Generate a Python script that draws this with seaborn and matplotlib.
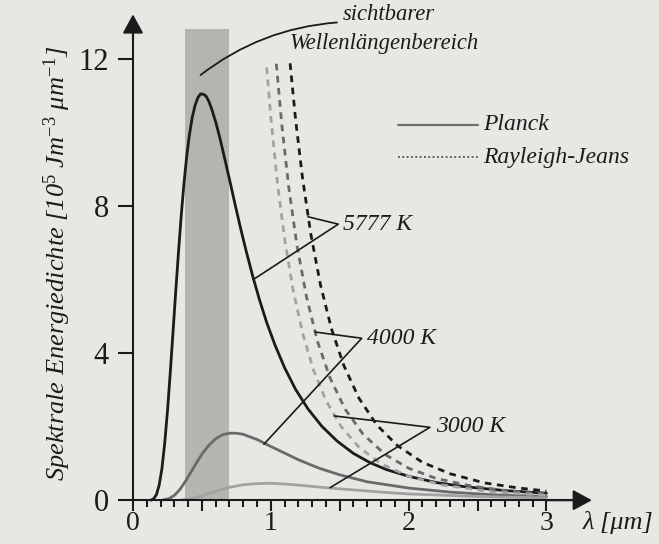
import matplotlib
matplotlib.use("Agg")
import matplotlib.pyplot as plt
import pandas as pd
import seaborn as sns

# ---------------- data ----------------
# Planck curves (wavelength in µm, energy density in 1e5 J m^-3 µm^-1)
planck_5777_lam = [0.13, 0.15, 0.17, 0.19, 0.21, 0.23, 0.25, 0.27, 0.29, 0.31,
                   0.33, 0.35, 0.37, 0.39, 0.41, 0.43, 0.45, 0.47, 0.49, 0.51,
                   0.53, 0.55, 0.57, 0.60, 0.63, 0.66, 0.70, 0.74, 0.78, 0.82,
                   0.87, 0.92, 0.97, 1.03, 1.10, 1.18, 1.27, 1.37, 1.48, 1.60,
                   1.72, 1.84, 2.0, 2.2, 2.4, 2.7, 3.0]
planck_5777_u = [0.0, 0.04, 0.15, 0.41, 0.86, 1.54, 2.41, 3.44, 4.54, 5.66,
                 6.73, 7.73, 8.61, 9.35, 9.94, 10.40, 10.72, 10.93, 11.04, 11.03,
                 10.98, 10.84, 10.64, 10.28, 9.85, 9.37, 8.72, 8.05, 7.40, 6.79,
                 6.07, 5.42, 4.83, 4.22, 3.60, 3.01, 2.48, 2.01, 1.61, 1.27,
                 1.02, 0.83, 0.65, 0.48, 0.37, 0.26, 0.19]

planck_4000_lam = [0.22, 0.26, 0.30, 0.34, 0.38, 0.42, 0.46, 0.50, 0.55, 0.60,
                   0.65, 0.70, 0.75, 0.80, 0.90, 1.0, 1.1, 1.2, 1.35, 1.5,
                   1.7, 2.0, 2.3, 2.6, 3.0]
planck_4000_u = [0.01, 0.04, 0.13, 0.29, 0.51, 0.76, 1.01, 1.25, 1.49, 1.67,
                 1.78, 1.82, 1.82, 1.79, 1.65, 1.46, 1.28, 1.10, 0.87, 0.69,
                 0.50, 0.33, 0.22, 0.15, 0.10]

planck_3000_lam = [0.36, 0.40, 0.45, 0.50, 0.55, 0.60, 0.70, 0.80, 0.90, 1.0,
                   1.1, 1.2, 1.4, 1.6, 1.8, 2.0, 2.5, 3.0]
planck_3000_u = [0.01, 0.03, 0.07, 0.12, 0.18, 0.24, 0.35, 0.42, 0.45, 0.46,
                 0.44, 0.41, 0.34, 0.28, 0.22, 0.17, 0.10, 0.06]

# Rayleigh-Jeans curves
rj_5777_lam = [1.14, 1.18, 1.23, 1.29, 1.36, 1.44, 1.53, 1.64, 1.77, 1.92,
               2.1, 2.3, 2.55, 2.8, 3.0]
rj_5777_u = [11.87, 10.34, 8.76, 7.24, 5.86, 4.66, 3.66, 2.77, 2.04, 1.48,
             1.03, 0.72, 0.47, 0.33, 0.25]
rj_4000_lam = [1.04, 1.08, 1.13, 1.19, 1.26, 1.34, 1.43, 1.54, 1.67, 1.83,
               2.0, 2.2, 2.45, 2.7, 3.0]
rj_4000_u = [11.86, 10.20, 8.51, 6.92, 5.51, 4.30, 3.32, 2.47, 1.79, 1.24,
             0.87, 0.59, 0.39, 0.26, 0.17]
rj_3000_lam = [0.97, 1.0, 1.05, 1.10, 1.16, 1.23, 1.31, 1.40, 1.51, 1.64,
               1.80, 2.0, 2.25, 2.6, 3.0]
rj_3000_u = [11.76, 10.41, 8.56, 7.11, 5.75, 4.55, 3.53, 2.71, 2.00, 1.44,
             0.99, 0.65, 0.41, 0.23, 0.13]

temperatures = ["5777 K", "4000 K", "3000 K"]
models = ["Planck", "Rayleigh-Jeans"]
visible_band = [0.38, 0.70]
visible_top = 12.8

y_ticks = [0, 4, 8, 12]
x_ticks = [0, 0.5, 1, 1.5, 2, 2.5, 3]
x_tick_labels = ["0", "", "1", "", "2", "", "3"]

# ---------------- build long table ----------------
series = {
    ("5777 K", "Planck"): (planck_5777_lam, planck_5777_u),
    ("4000 K", "Planck"): (planck_4000_lam, planck_4000_u),
    ("3000 K", "Planck"): (planck_3000_lam, planck_3000_u),
    ("5777 K", "Rayleigh-Jeans"): (rj_5777_lam, rj_5777_u),
    ("4000 K", "Rayleigh-Jeans"): (rj_4000_lam, rj_4000_u),
    ("3000 K", "Rayleigh-Jeans"): (rj_3000_lam, rj_3000_u),
}
rows = []
for (T, m), (ls, us) in series.items():
    for l, u in zip(ls, us):
        rows.append({"lam": l, "u": u, "T": T, "model": m})
df = pd.DataFrame(rows)

# ---------------- style ----------------
sns.set_theme(style="white")
plt.rcParams["font.family"] = ["Liberation Serif", "DejaVu Serif"]
plt.rcParams["mathtext.fontset"] = "custom"
plt.rcParams["mathtext.rm"] = "Liberation Serif"
plt.rcParams["mathtext.it"] = "Liberation Serif:italic"
plt.rcParams["mathtext.default"] = "it"

bg = "#e9e7e4"
ink = "#1b1b1b"
fig = plt.figure(figsize=(6.59, 5.44), dpi=100, facecolor=bg)
ax = fig.add_axes([0, 0, 1, 1])
ax.set_facecolor(bg)

# visible range band
ax.fill_between(visible_band, 0, visible_top, color="#b6b4b1", lw=0, zorder=1)

palette = {"5777 K": ink, "4000 K": "#6a6a6a", "3000 K": "#a2a2a2"}
sns.lineplot(data=df, x="lam", y="u", hue="T", style="model",
             hue_order=temperatures, style_order=models,
             palette=palette, dashes={"Planck": "", "Rayleigh-Jeans": (2.4, 2.0)},
             linewidth=2.0, estimator=None, sort=True, legend=False, ax=ax, zorder=3)

ax.set_xlim(-0.965, 3.817)
ax.set_ylim(-1.19, 13.59)
ax.set_xlabel("")
ax.set_ylabel("")

# axes with arrows
for s in ["top", "right"]:
    ax.spines[s].set_visible(False)
ax.spines["left"].set_position(("data", 0))
ax.spines["bottom"].set_position(("data", 0))
ax.spines["left"].set_bounds(0, 12.9)
ax.spines["bottom"].set_bounds(0, 3.2)
for s in ["left", "bottom"]:
    ax.spines[s].set_linewidth(1.5)
    ax.spines[s].set_color(ink)
    ax.spines[s].set_zorder(4)

arrow = dict(arrowstyle="-|>,head_length=0.55,head_width=0.3", mutation_scale=21,
             lw=1.5, color=ink, shrinkA=0, shrinkB=0)
ax.annotate("", xy=(0, 13.2), xytext=(0, 12.5), arrowprops=arrow)
ax.annotate("", xy=(3.33, 0), xytext=(3.0, 0), arrowprops=arrow)

ax.set_yticks(y_ticks)
ax.set_yticklabels([str(t) for t in y_ticks])
ax.set_xticks(x_ticks)
ax.set_xticklabels(x_tick_labels)
ax.set_xticks([i / 10 for i in range(0, 31) if i % 5], minor=True)
ax.tick_params(axis="y", which="major", left=True, direction="out", length=10.5,
               width=1.5, color=ink, labelsize=22, pad=7, labelcolor=ink)
ax.tick_params(axis="x", which="major", bottom=True, direction="out", length=8.0,
               width=1.5, color=ink, labelsize=20, pad=0, labelcolor=ink)
ax.tick_params(axis="x", which="minor", bottom=True, direction="out", length=5.0,
               width=1.5, color=ink)

# axis labels
ax.text(-0.55, 6.45, r"Spektrale Energiedichte [10$^5$ Jm$^{-3}$ μm$^{-1}$]",
        rotation=90, ha="center", va="center", fontsize=19, style="italic", color=ink)
ax.text(3.26, -0.6, "λ [μm]", ha="left", va="center", fontsize=19,
        style="italic", color=ink)

# visible range annotation
ax.text(1.524, 13.2, "sichtbarer", ha="left", va="center", fontsize=16.3,
        style="italic", color=ink)
ax.text(1.139, 12.4, "Wellenlängenbereich", ha="left", va="center", fontsize=16.3,
        style="italic", color=ink)
ax.annotate("", xy=(0.49, 11.55), xytext=(1.48, 12.98),
            arrowprops=dict(arrowstyle="-", connectionstyle="arc3,rad=0.15",
                            lw=1.3, color=ink, shrinkA=0, shrinkB=0))

# legend
ax.plot([1.92, 2.50], [10.2, 10.2], color="#707070", lw=1.6)
ax.text(2.54, 10.2, "Planck", ha="left", va="center", fontsize=17,
        style="italic", color=ink)
ax.plot([1.92, 2.50], [9.32, 9.32], color="#505050", lw=1.3, ls=(0, (1, 1.4)))
ax.text(2.54, 9.32, "Rayleigh-Jeans", ha="left", va="center", fontsize=17,
        style="italic", color=ink)

# temperature labels with leader lines
labels = [
    ("5777 K", (1.27, 7.70), (1.49, 7.50), (0.875, 6.00), (1.525, 7.50)),
    ("4000 K", (1.32, 4.57), (1.66, 4.40), (0.95, 1.52), (1.70, 4.38)),
    ("3000 K", (1.46, 2.29), (2.155, 1.98), (1.43, 0.34), (2.20, 2.00)),
]
for txt, p1, v, p2, tp in labels:
    ax.plot([p1[0], v[0], p2[0]], [p1[1], v[1], p2[1]], color=ink, lw=1.2, zorder=5)
    ax.text(tp[0], tp[1], txt, ha="left", va="center", fontsize=17,
            style="italic", color=ink)

fig.savefig("out.png", dpi=100, facecolor=bg)
